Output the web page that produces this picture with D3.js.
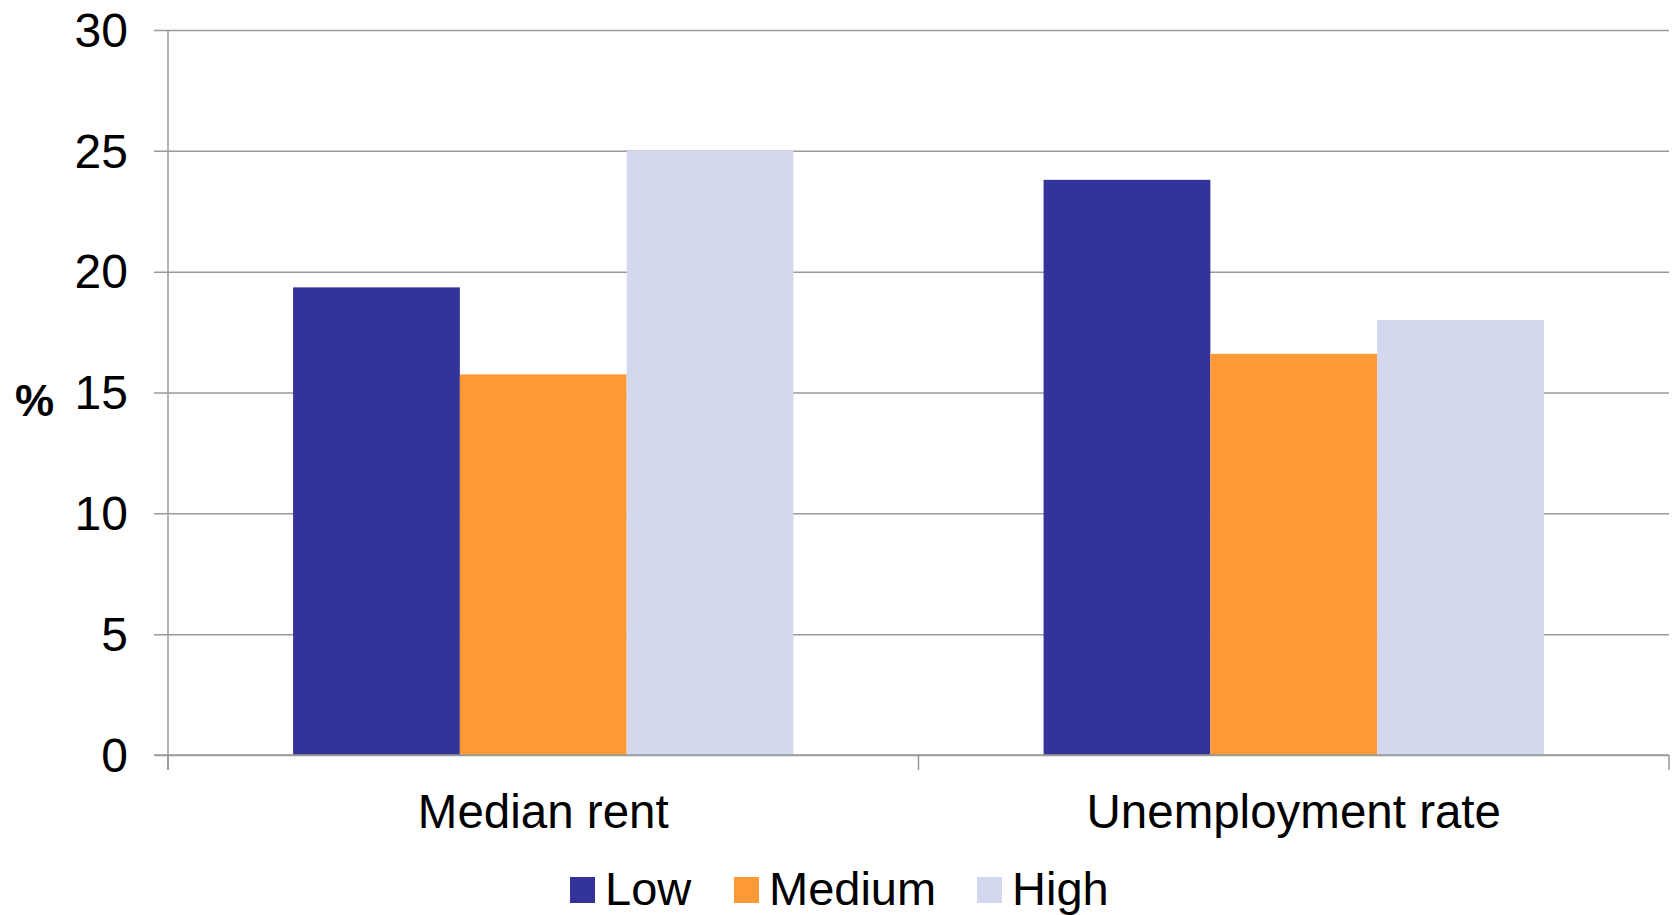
<!DOCTYPE html>
<html>
<head>
<meta charset="utf-8">
<script src="https://cdn.jsdelivr.net/npm/d3@7"></script>
<style>
  body { margin: 0; background: #fff; }
  text { font-family: "Liberation Sans", Arial, sans-serif; fill: #000; }
</style>
</head>
<body>
<script>
// data
const categories = ["Median rent", "Unemployment rate"];
const seriesNames = ["Low", "Medium", "High"];
const lowValues = [19.35, 23.8];
const mediumValues = [15.75, 16.6];
const highValues = [25.0, 18.0];
const yTicks = [0, 5, 10, 15, 20, 25, 30];
const colors = ["#333399", "#ff9933", "#d3d8ee"];

const seriesValues = [lowValues, mediumValues, highValues];

const w = 1673, h = 915;
const padL = 168, padR = 1669, padT = 30, padB = 755;

const svg = d3.select("body").append("svg")
  .attr("width", w).attr("height", h);

const y = d3.scaleLinear().domain([0, 30]).range([padB, padT]);
const x0 = d3.scaleBand().domain(categories).range([padL, padR]);
const x1 = d3.scaleBand().domain(seriesNames)
  .range([0, x0.bandwidth()]).paddingInner(0).paddingOuter(0.75);

// gridlines + left ticks
svg.append("g").attr("transform", "translate(" + padL + ",0)")
  .call(d3.axisLeft(y).tickValues(yTicks).tickSize(-(padR - padL)).tickSizeOuter(0).tickFormat(""))
  .call(g => g.select(".domain").remove())
  .call(g => g.selectAll(".tick line").attr("stroke", "#9a9a9a").attr("stroke-width", 1.5).attr("x1", -14));

svg.append("g").selectAll("text")
  .data(yTicks).enter().append("text")
  .attr("x", 128).attr("y", d => y(d)).attr("dy", "0.35em")
  .attr("text-anchor", "end").style("font-size", "48px")
  .text(d => d);

// bars
const groups = svg.append("g").selectAll("g")
  .data(categories).enter().append("g")
  .attr("transform", d => "translate(" + x0(d) + ",0)");

groups.selectAll("rect")
  .data((d, ci) => seriesNames.map((s, si) => ({ s: s, v: seriesValues[si][ci], c: colors[si] })))
  .enter().append("rect")
  .attr("x", d => x1(d.s))
  .attr("width", x1.bandwidth())
  .attr("y", d => y(d.v))
  .attr("height", d => y(0) - y(d.v))
  .attr("fill", d => d.c);

// axes lines
svg.append("line").attr("x1", padL).attr("x2", padL).attr("y1", padT).attr("y2", padB + 15)
  .attr("stroke", "#9a9a9a").attr("stroke-width", 1.5);
svg.append("line").attr("x1", padL - 14).attr("x2", padR).attr("y1", padB).attr("y2", padB)
  .attr("stroke", "#9a9a9a").attr("stroke-width", 1.5);
const xTickPos = [padL].concat(categories.map(c => x0(c) + x0.bandwidth()));
svg.append("g").selectAll("line").data(xTickPos).enter().append("line")
  .attr("x1", d => d).attr("x2", d => d).attr("y1", padB).attr("y2", padB + 15)
  .attr("stroke", "#9a9a9a").attr("stroke-width", 1.5);

// category labels
svg.append("g").selectAll("text")
  .data(categories).enter().append("text")
  .attr("x", d => x0(d) + x0.bandwidth() / 2).attr("y", 828)
  .attr("text-anchor", "middle").style("font-size", "47.5px")
  .text(d => d);

// y axis title
svg.append("text").attr("x", 15).attr("y", 416)
  .style("font-size", "44px").style("font-weight", "bold").text("%");

// legend
const legendX = [570, 734, 977];
const legend = svg.append("g").selectAll("g")
  .data(seriesNames).enter().append("g")
  .attr("transform", (d, i) => "translate(" + legendX[i] + ",877)");
legend.append("rect").attr("width", 25).attr("height", 26).attr("fill", (d, i) => colors[i]);
legend.append("text").attr("x", 35).attr("y", 28).style("font-size", "47px").text(d => d);
</script>
</body>
</html>
